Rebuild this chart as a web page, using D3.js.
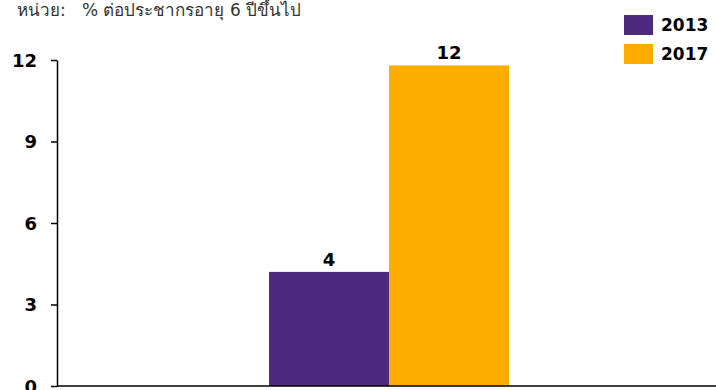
<!DOCTYPE html>
<html>
<head>
<meta charset="utf-8">
<script src="https://cdn.jsdelivr.net/npm/d3@7"></script>
<style>
  body { margin: 0; background: #fff; }
  svg { font-family: "DejaVu Sans", Verdana, sans-serif; }
  .value-label { font-size: 18px; font-weight: bold; fill: #000; }
  .legend-label { font-size: 17px; font-weight: bold; fill: #000; }
  .unit { font-size: 17px; fill: #333; white-space: pre; }
</style>
</head>
<body>
<svg id="chart" width="716" height="390"></svg>
<script>
// data
let years   = ["2013", "2017"];
let values  = [4.2, 11.8];
let labels  = ["4", "12"];
let colors  = ["#4e2a7e", "#ffab00"];
let y_ticks = [0, 3, 6, 9, 12];
let unit_text = "หน่วย:   % ต่อประชากรอายุ 6 ปีขึ้นไป";

let svg = d3.select("#chart");

let margin = {top: 60, right: -4, bottom: 4, left: 57},
    width  = 716 - margin.left - margin.right,
    height = 390 - margin.top - margin.bottom;

let x = d3.scaleBand().domain(years).range([212, 452]).padding(0),
    y = d3.scaleLinear().domain([0, 12]).range([height, 0]);

let g = svg.append("g").attr("transform", `translate(${margin.left}, ${margin.top})`);

// unit caption
svg.append("text")
    .classed("unit", true)
    .attr("x", 17)
    .attr("y", 16)
    .text(unit_text);

// bars
g.selectAll("rect.bar")
    .data(years).enter()
    .append("rect")
    .classed("bar", true)
    .attr("x", (d) => x(d))
    .attr("y", (d, i) => y(values[i]))
    .attr("width", x.bandwidth())
    .attr("height", (d, i) => height - y(values[i]))
    .attr("fill", (d, i) => colors[i]);

// value labels
g.selectAll("text.value-label")
    .data(years).enter()
    .append("text")
    .classed("value-label", true)
    .attr("x", (d) => x(d) + x.bandwidth() / 2)
    .attr("y", (d, i) => y(values[i]) - 6)
    .attr("text-anchor", "middle")
    .text((d, i) => labels[i]);

// y axis
let y_axis = g.append("g")
    .call(d3.axisLeft(y).tickValues(y_ticks).tickSize(6).tickSizeOuter(0).tickPadding(14));
y_axis.attr("font-family", null).attr("font-size", null);
y_axis.select(".domain").attr("stroke", "#000").attr("stroke-width", 1.5);
y_axis.selectAll(".tick line").attr("stroke", "#000").attr("stroke-width", 1.5);
y_axis.selectAll(".tick text")
    .attr("dy", "0.36em")
    .style("font-size", "18px")
    .style("font-weight", "bold")
    .style("fill", "#000");

// x axis line
g.append("line")
    .attr("x1", 0).attr("x2", width)
    .attr("y1", height).attr("y2", height)
    .attr("stroke", "#000").attr("stroke-width", 1.5);

// legend
let legend = svg.selectAll("g.legend")
    .data(years).enter()
    .append("g")
    .classed("legend", true)
    .attr("transform", (d, i) => `translate(624, ${15 + i * 29})`);

legend.append("rect")
    .attr("width", 29).attr("height", 20)
    .attr("fill", (d, i) => colors[i]);

legend.append("text")
    .classed("legend-label", true)
    .attr("x", 37).attr("y", 10).attr("dy", "0.35em")
    .text((d) => d);
</script>
</body>
</html>
